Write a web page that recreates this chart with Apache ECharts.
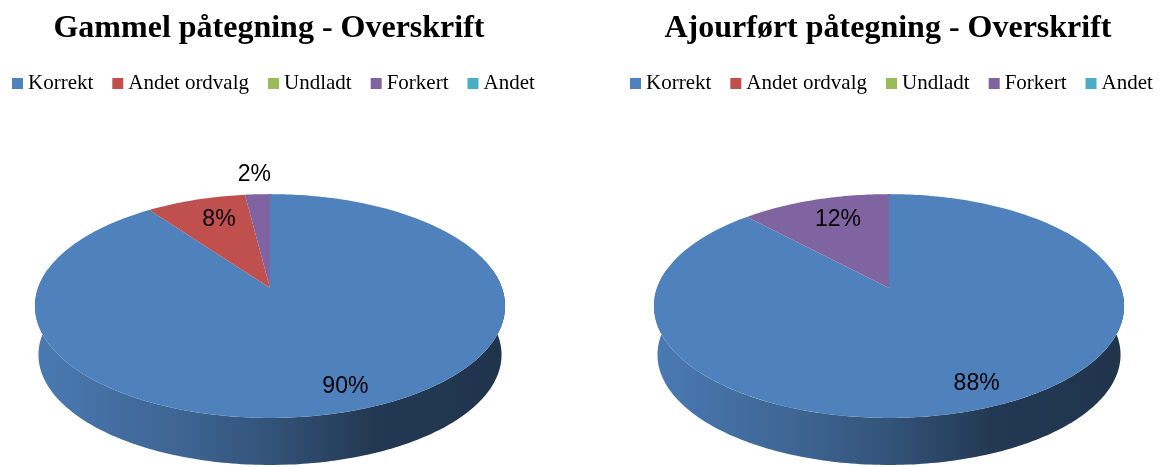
<!DOCTYPE html>
<html>
<head>
<meta charset="utf-8">
<script src="https://cdn.jsdelivr.net/npm/echarts@6/dist/echarts.min.js"></script>
<style>
  html, body { margin: 0; padding: 0; background: #fff; }
  #chart { width: 1159px; height: 467px; }
</style>
</head>
<body>
<div id="chart"></div>
<script>
// data
const categories = ['Korrekt', 'Andet ordvalg', 'Undladt', 'Forkert', 'Andet'];
const colors = ['#4f81bd', '#c0504d', '#9bbb59', '#8064a2', '#4bacc6'];
const pieTitles = ['Gammel påtegning - Overskrift', 'Ajourført påtegning - Overskrift'];
const oldValues = [90, 8, 0, 2, 0];
const newValues = [88, 0, 0, 12, 0];
const pieValues = [oldValues, newValues];

// layout of the two tilted pies
const centersX = [270, 889];
const centerY = 288;
const radiusX = 232;
const radiusY = 109;
const persp = 0.161;     // perspective factor (back smaller than front)
const thickness = 49;
const bottomScale = 0.985;

function project(pie, theta, r, bottom) {
    const u = r * Math.sin(theta);
    const v = -r * Math.cos(theta);
    const w = 1 / (1 - persp * v);
    const s = bottom ? bottomScale : 1;
    return [
        centersX[pie] + radiusX * u * w * s,
        centerY + radiusY * v * w * s + (bottom ? thickness : 0)
    ];
}

function shade(hex, f) {
    const n = parseInt(hex.slice(1), 16);
    const r = Math.round(((n >> 16) & 255) * f);
    const g = Math.round(((n >> 8) & 255) * f);
    const b = Math.round((n & 255) * f);
    return 'rgb(' + r + ',' + g + ',' + b + ')';
}

function rimPoints(pie, a0, a1, bottom) {
    const pts = [];
    const steps = Math.max(2, Math.ceil((a1 - a0) / (Math.PI / 180)));
    for (let i = 0; i <= steps; i++) {
        pts.push(project(pie, a0 + (a1 - a0) * i / steps, 1, bottom));
    }
    return pts;
}

function makeRenderItem(catIndex) {
    return function (params, api) {
        const pie = params.dataIndex;
        const values = pieValues[pie];
        const value = api.value(0);
        if (!value) return null;
        const total = values.reduce((s, x) => s + x, 0);
        let before = 0;
        for (let i = 0; i < catIndex; i++) before += values[i];
        const a0 = before / total * Math.PI * 2;
        const a1 = (before + value) / total * Math.PI * 2;
        const color = colors[catIndex];
        const children = [];

        // front wall
        const lo = Math.max(a0, 80 * Math.PI / 180);
        const hi = Math.min(a1, 280 * Math.PI / 180);
        if (hi > lo) {
            const top = rimPoints(pie, lo, hi, false);
            const bot = rimPoints(pie, lo, hi, true).reverse();
            const x0 = centersX[pie] - radiusX;
            const x1 = centersX[pie] + radiusX;
            children.push({
                type: 'polygon',
                shape: { points: top.concat(bot) },
                style: {
                    fill: {
                        type: 'linear', x: x0, y: 0, x2: x1, y2: 0, global: true,
                        colorStops: [
                            { offset: 0, color: shade(color, 0.94) },
                            { offset: 0.3, color: shade(color, 0.78) },
                            { offset: 0.5, color: shade(color, 0.64) },
                            { offset: 0.72, color: shade(color, 0.44) },
                            { offset: 1, color: shade(color, 0.40) }
                        ]
                    }
                }
            });
        }

        // top face
        const face = [project(pie, 0, 0, false)].concat(rimPoints(pie, a0, a1, false));
        children.push({
            type: 'polygon',
            shape: { points: face },
            style: { fill: color }
        });

        // percentage label (small slices outside)
        const share = value / total;
        const mid = (a0 + a1) / 2;
        const outside = share < 0.05;
        const lp = project(pie, mid, outside ? 1.3 : 0.8, false);
        children.push({
            type: 'text',
            z2: 100,
            style: {
                x: lp[0] + (outside ? 0 : 10),
                y: lp[1] + 4,
                text: Math.round(share * 100) + '%',
                fill: '#000',
                font: '23px "Liberation Sans", Arial, sans-serif',
                align: 'center',
                verticalAlign: 'middle'
            }
        });
        return { type: 'group', children: children };
    };
}

const series = categories.map((name, i) => ({
    name: name,
    type: 'custom',
    coordinateSystem: 'none',
    itemStyle: { color: colors[i] },
    renderItem: makeRenderItem(i),
    data: [[oldValues[i]], [newValues[i]]],
    animation: false
}));

const legendBase = {
    data: categories,
    top: 73,
    width: 560,
    icon: 'rect',
    itemWidth: 11,
    itemHeight: 11,
    itemGap: 19,
    padding: 0,
    textStyle: {
        fontFamily: '"Liberation Serif", "Times New Roman", serif',
        fontSize: 21,
        color: '#000',
        padding: [0, 0, 0, 0]
    }
};

const chart = echarts.init(document.getElementById('chart'));
chart.setOption({
    backgroundColor: '#fff',
    animation: false,
    title: pieTitles.map((t, i) => ({
        text: t,
        left: centersX[i] - 1,
        textAlign: 'center',
        top: 13,
        padding: 0,
        textStyle: {
            fontFamily: '"Liberation Serif", "Times New Roman", serif',
            fontWeight: 'bold',
            fontSize: 32,
            color: '#000'
        }
    })),
    legend: [
        Object.assign({}, legendBase, { left: 12 }),
        Object.assign({}, legendBase, { left: 630 })
    ],
    series: series
});
</script>
</body>
</html>
